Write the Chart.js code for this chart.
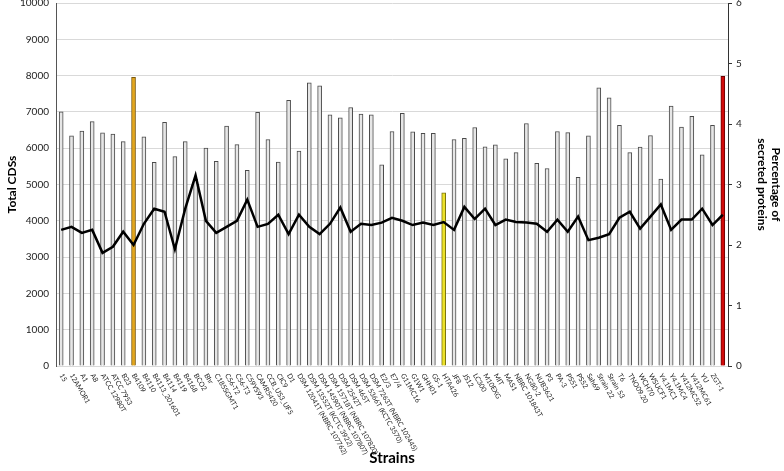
<!DOCTYPE html>
<html>
<head>
<meta charset="utf-8">
<script src="https://cdn.jsdelivr.net/npm/chart.js@4.4.1/dist/chart.umd.min.js"></script>
<style>
  html, body { margin: 0; padding: 0; background: #fff; }
  canvas { display: block; }
</style>
</head>
<body>
<canvas id="chart" width="784" height="471"></canvas>
<script>
// Souches (axe X)
const strains = [
  '15', '12AMOR1', 'A1', 'A8', 'ATCC 12980T', 'ATCC 7953', 'B23', 'B4109', 'B4110',
  'B4113_201601', 'B4114', 'B4119', 'B4168', 'BCO2', 'Bhr', 'C185SGMT1', 'C56-T2',
  'C56-T3', 'C59YS93', 'CAMR5420', 'CCB_US3_UF5', 'CIC9', 'D1',
  'DSM 12041T (NBRC 107762)', 'DSM 13552T (KCTC 3922)', 'DSM 14590T (NBRC 107807)',
  'DSM 15718T (NBRC 107820)', 'DSM 2542T', 'DSM 465T', 'DSM 5366T (KCTC 3570)',
  'DSM 7263T (NBRC 102445)', 'E2/3', 'E7/4', 'G11MC16', 'G1W1', 'GHH01', 'GS-1',
  'HTA426', 'JF8', 'JS12', 'LC300', 'M10EXG', 'MIT', 'MAS1', 'NBRC 101843T',
  'NG80-2', 'NUB3621', 'P3', 'PA-3', 'PS51', 'PS52', 'Sah69', 'Strain 22',
  'Strain 53', 'T6', 'TNO09.20', 'WCH70', 'WSUCF1', 'Y4.1MC1', 'Y4.1MC4',
  'Y412MC52', 'Y412MC61', 'YU', 'ZGT-1', ''
];

// Nombre total de CDS (axe gauche)
const totalCDS = [
  7000, 6340, 6470, 6730, 6420, 6390, 6180, 7950, 6310, 5610,
  6710, 5770, 6180, 5150, 6000, 5640, 6610, 6100, 5390, 6990,
  6240, 5620, 7320, 5920, 7800, 7720, 6920, 6840, 7120, 6940,
  6920, 5540, 6460, 6960, 6450, 6410, 6410, 4770, 6240, 6270,
  6570, 6040, 6090, 5710, 5880, 6680, 5580, 5440, 6460, 6430,
  5200, 6340, 7660, 7390, 6630, 5880, 6030, 6350, 5150, 7160,
  6580, 6880, 5820, 6630, 7980
];

// Pourcentage de protéines sécrétées (axe droit)
const secretedPct = [
  2.25, 2.30, 2.20, 2.25, 1.87, 1.97, 2.22, 2.00, 2.35, 2.60,
  2.55, 1.93, 2.60, 3.15, 2.40, 2.20, 2.30, 2.40, 2.75, 2.30,
  2.35, 2.50, 2.18, 2.50, 2.30, 2.18, 2.35, 2.62, 2.22, 2.35,
  2.33, 2.37, 2.45, 2.40, 2.33, 2.37, 2.33, 2.38, 2.25, 2.63,
  2.43, 2.60, 2.33, 2.42, 2.38, 2.37, 2.35, 2.22, 2.42, 2.22,
  2.47, 2.08, 2.12, 2.18, 2.45, 2.55, 2.27, 2.47, 2.67, 2.25,
  2.42, 2.42, 2.60, 2.33, 2.50
];

// Couleurs des barres (souches mises en évidence)
const barFill = totalCDS.map((v, i) =>
  i === 7 ? '#e3a61c' : i === 37 ? '#ece12a' : i === 64 ? '#d10a0a' : '#e6e6e6');
const barBorder = totalCDS.map((v, i) =>
  i === 7 ? '#7a5a10' : i === 37 ? '#7a7410' : i === 64 ? '#6a0000' : '#4a4a4a');

// Étiquettes inclinées sous l'axe X
const strainLabels = {
  id: 'strainLabels',
  afterDraw(chart) {
    const { ctx, scales: { x } } = chart;
    ctx.save();
    ctx.font = '7px Lato';
    ctx.fillStyle = '#222';
    ctx.textAlign = 'left';
    ctx.textBaseline = 'middle';
    strains.forEach((s, i) => {
      const px = x.getPixelForTick(i);
      ctx.save();
      ctx.translate(px, x.top + 8);
      ctx.rotate(60 * Math.PI / 180);
      ctx.fillText(s, 0, 0);
      ctx.restore();
    });
    ctx.restore();
  }
};

const ctx = document.getElementById('chart').getContext('2d');
new Chart(ctx, {
  type: 'bar',
  data: {
    labels: strains,
    datasets: [
      {
        type: 'line',
        label: 'Percentage of secreted proteins',
        data: secretedPct,
        yAxisID: 'y1',
        borderColor: '#000',
        borderWidth: 2.5,
        pointRadius: 0,
        tension: 0,
        order: 0
      },
      {
        label: 'Total CDSs',
        data: totalCDS,
        yAxisID: 'y',
        backgroundColor: barFill,
        borderColor: barBorder,
        borderWidth: 1,
        barThickness: 4,
        order: 1
      }
    ]
  },
  options: {
    responsive: false,
    animation: false,
    layout: { padding: { top: 3, left: 0, right: 0, bottom: 0 } },
    plugins: { legend: { display: false }, tooltip: { enabled: false } },
    scales: {
      x: {
        offset: true,
        grid: { display: false },
        border: { display: false },
        ticks: { display: false },
        title: {
          display: true,
          text: 'Strains',
          font: { family: 'Lato', size: 15, weight: 'bold' },
          color: '#000',
          padding: { top: 0, bottom: 4 }
        },
        afterFit(scale) { scale.height = 105; scale.paddingLeft = 0; scale.paddingRight = 0; }
      },
      y: {
        position: 'left',
        min: 0,
        max: 10000,
        ticks: {
          stepSize: 1000,
          padding: 7,
          color: '#222',
          font: { family: 'Lato', size: 10 },
          callback: (v) => String(v)
        },
        grid: { color: '#d9d9d9', lineWidth: 1, drawTicks: false },
        border: { display: true, color: '#555', width: 1 },
        title: {
          display: true,
          text: 'Total CDSs',
          font: { family: 'Lato', size: 12, weight: 'bold' },
          color: '#000',
          padding: { top: 5, bottom: 0 }
        },
        afterFit(scale) { scale.width = 56; scale.paddingTop = 0; scale.paddingBottom = 0; }
      },
      y1: {
        position: 'right',
        min: 0,
        max: 6,
        ticks: {
          stepSize: 1,
          padding: 4,
          color: '#222',
          font: { family: 'Lato', size: 10 },
          callback: (v) => String(v)
        },
        grid: { drawOnChartArea: false, drawTicks: true, tickLength: 4, color: '#333' },
        border: { display: true, color: '#333', width: 1 },
        title: {
          display: true,
          text: ['Percentage of', 'secreted proteins'],
          font: { family: 'Lato', size: 12, weight: 'bold' },
          color: '#000',
          padding: { top: 1, bottom: 0 }
        },
        afterFit(scale) { scale.width = 56; scale.paddingTop = 0; scale.paddingBottom = 0; }
      }
    }
  },
  plugins: [strainLabels]
});
</script>
</body>
</html>
